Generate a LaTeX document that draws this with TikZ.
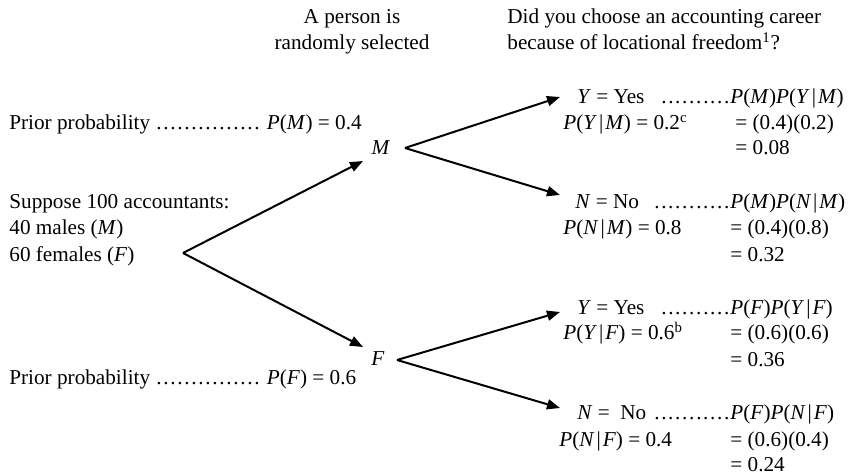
\documentclass[tikz,border=0pt]{standalone}
\usepackage{fontspec}
\setmainfont{Liberation Serif}
\usetikzlibrary{arrows.meta}
\newcommand{\vi}[1]{\textit{#1}}
\newcommand{\cbar}{\kern1pt|\kern1pt}
\newcommand{\dotrow}[1]{\hbox to #1{\leaders\hbox to 3.5pt{\hss.\hss}\hfill}}

\begin{document}
\begin{tikzpicture}[x=0.5pt, y=-0.5pt,
    txt/.style={inner sep=0pt, anchor=base west, font=\fontsize{10.6}{13}\selectfont},
    branch/.style={line width=1pt, -{Triangle[length=6.5pt, width=5pt]}}
]
  \useasboundingbox (0,0) rectangle (852,475);

  % Kopfzeilen
  \node[txt, anchor=base] (sel1) at (352,24) {A person is};
  \node[txt, anchor=base] (sel2) at (352,50) {randomly selected};
  \node[txt] (ask1) at (507,24) {Did you choose an accounting career};
  \node[txt] (ask2) at (507,50) {because of locational freedom\textsuperscript{1}?};

  % linke Spalte
  \node[txt] (priorM) at (9,130) {Prior probability \dotrow{54pt}\,\vi{P}(\vi{M}) = 0.4};
  \node[txt] (pop1) at (9,209) {Suppose 100 accountants:};
  \node[txt] (pop2) at (9,235) {40 males (\vi{M})};
  \node[txt] (pop3) at (9,262) {60 females (\vi{F})};
  \node[txt] (priorF) at (9,385) {Prior probability \dotrow{54pt}\,\vi{P}(\vi{F}) = 0.6};

  % erste Verzweigung
  \node[txt, anchor=center] (M) at (381,148) {\vi{M}};
  \node[txt, anchor=center] (F) at (378,359) {\vi{F}};
  \coordinate (root) at (183,253);
  \coordinate (tipM) at (363,161);
  \coordinate (tipF) at (363,347);
  \draw[branch] (root) -- (tipM);
  \draw[branch] (root) -- (tipF);

  % zweite Verzweigung
  \coordinate (forkM) at (405,148);
  \coordinate (forkF) at (397,360);
  \coordinate (tipMY) at (560,97);
  \coordinate (tipMN) at (560,195);
  \coordinate (tipFY) at (560,312);
  \coordinate (tipFN) at (560,408);
  \draw[branch] (forkM) -- (tipMY);
  \draw[branch] (forkM) -- (tipMN);
  \draw[branch] (forkF) -- (tipFY);
  \draw[branch] (forkF) -- (tipFN);

  % Ergebnisse M
  \node[txt] (yesM) at (577,104) {\vi{Y} = Yes};
  \node[txt] (prodMY) at (660,104) {\dotrow{35pt}\vi{P}(\vi{M})\vi{P}(\vi{Y}\cbar\vi{M})};
  \node[txt] (condMY) at (563,130) {\vi{P}(\vi{Y}\cbar\vi{M}) = 0.2\textsuperscript{c}};
  \node[txt] (calcMY) at (735,130) {= (0.4)(0.2)};
  \node[txt] (resMY) at (735,155) {= 0.08};

  \node[txt] (noM) at (575,209) {\vi{N} = No};
  \node[txt] (prodMN) at (653,209) {\dotrow{38.5pt}\vi{P}(\vi{M})\vi{P}(\vi{N}\cbar\vi{M})};
  \node[txt] (condMN) at (563,235) {\vi{P}(\vi{N}\cbar\vi{M}) = 0.8};
  \node[txt] (calcMN) at (730,235) {= (0.4)(0.8)};
  \node[txt] (resMN) at (730,262) {= 0.32};

  % Ergebnisse F
  \node[txt] (yesF) at (577,315) {\vi{Y} = Yes};
  \node[txt] (prodFY) at (660,315) {\dotrow{35pt}\vi{P}(\vi{F})\vi{P}(\vi{Y}\cbar\vi{F})};
  \node[txt] (condFY) at (563,340) {\vi{P}(\vi{Y}\cbar\vi{F}) = 0.6\textsuperscript{b}};
  \node[txt] (calcFY) at (730,340) {= (0.6)(0.6)};
  \node[txt] (resFY) at (730,367) {= 0.36};

  \node[txt] (noF) at (577,420) {\vi{N} =\ \ No};
  \node[txt] (prodFN) at (653,420) {\dotrow{38.5pt}\vi{P}(\vi{F})\vi{P}(\vi{N}\cbar\vi{F})};
  \node[txt] (condFN) at (559,447) {\vi{P}(\vi{N}\cbar\vi{F}) = 0.4};
  \node[txt] (calcFN) at (730,447) {= (0.6)(0.4)};
  \node[txt] (resFN) at (730,472) {= 0.24};

\end{tikzpicture}
\end{document}
